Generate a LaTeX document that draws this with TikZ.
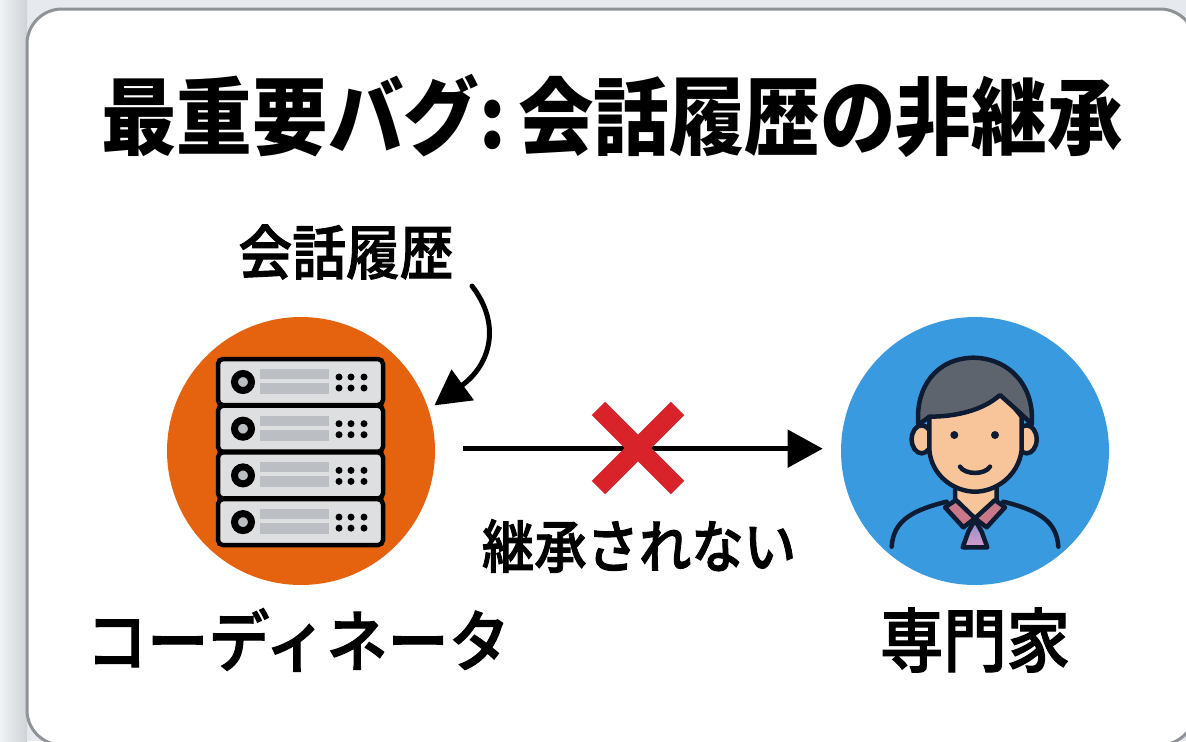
\documentclass[tikz,border=0pt]{standalone}
\usepackage{fontspec}
\newfontfamily\cjk{Noto Sans CJK JP}
\newfontfamily\cjkmed{Noto Sans CJK JP Medium}[FakeBold=1.6]
\usetikzlibrary{arrows.meta}

\newcommand{\tightspace}{\spaceskip 0.09em\relax}

\definecolor{cardedge}{HTML}{8F9398}
\definecolor{outerbg}{HTML}{E6EAEE}
\definecolor{coordorange}{HTML}{E5620F}
\definecolor{expertblue}{HTML}{3A9AE0}
\definecolor{crossred}{HTML}{D9232B}
\definecolor{rackgray}{HTML}{DEDFE1}
\definecolor{bargray}{HTML}{BBBEC2}
\definecolor{hairgray}{HTML}{5E646E}
\definecolor{skin}{HTML}{F8C49A}
\definecolor{inkblue}{HTML}{0E1C33}
\definecolor{collarpink}{HTML}{C9788A}
\definecolor{tietop}{HTML}{8A8FC8}
\definecolor{tiebottom}{HTML}{D79CC8}

\tikzset{
  jptitle/.style={font=\cjk\bfseries\fontsize{#1}{#1}\selectfont, text=black, inner sep=0pt, yscale=1.12, transform shape},
  jp/.style={font=\cjkmed\fontsize{#1}{#1}\selectfont, text=black, inner sep=0pt, yscale=1.1, transform shape},
  disc/.style={circle, minimum size=5.36cm, inner sep=0pt},
  flow/.style={line width=0.1cm, -{Triangle[length=0.7cm, width=0.74cm]}},
  rack/.style={draw=black, fill=rackgray, line width=0.09cm, rounded corners=0.1cm},
  inkline/.style={draw=inkblue, line width=0.09cm, line join=round, line cap=round}
}

\begin{document}
\begin{tikzpicture}[x=0.02cm, y=-0.02cm]

\useasboundingbox (0, 0) rectangle (1186, 741);
\clip (0, 0) rectangle (1186, 741);

%Draw card
\fill[outerbg] (0, 0) rectangle (1186, 741);
\shade[left color=outerbg!60!white, right color=outerbg!90!black] (0, 0) rectangle (27, 741);
\draw[cardedge, fill=white, line width=0.06cm, rounded corners=0.7cm] (27, 9) rectangle (1195, 745);

%Draw labels
\node[jptitle=43pt] (title) at (612, 116) {\tightspace 最重要バグ: 会話履歴の非継承};
\node[jp=30.6pt] (history) at (346, 252) {会話履歴};
\node[jp=29.8pt] (denied) at (639, 546) {継承されない};
\node[jp=34.8pt] (coordlabel) at (298, 640) {コーディネータ};
\node[jp=36pt] (expertlabel) at (975, 640) {専門家};

%Draw circles
\node[disc, fill=coordorange] (coordinator) at (301, 451) {};
\node[disc, fill=expertblue] (expert) at (975, 451) {};

%Draw server racks
\foreach \row in {0, 1, 2, 3} {
\begin{scope}[shift={(0, 46.7*\row)}]
\draw[rack] (218, 359) rectangle (383, 405);
\draw[black, fill=bargray, line width=0.14cm] (243, 382) circle (8.5);
\fill[bargray] (260, 369) rectangle (329, 379);
\fill[bargray] (260, 383) rectangle (329, 394);
\foreach \dotx in {339, 351, 364} {
\fill[black] (\dotx, 377) circle (3.5);
\fill[black] (\dotx, 388) circle (3.5);
}
\end{scope}
}

%Draw person
\begin{scope}[shift={(830, 310)}, x=0.00667cm, y=-0.00667cm]
\draw[inkline, fill=skin] (275, 388) ellipse (30 and 42);
\draw[inkline, fill=skin] (590, 388) ellipse (30 and 42);
\draw[inkline, fill=skin] (375, 530) -- (375, 575) -- (435, 625) -- (500, 575) -- (500, 530) -- cycle;
\draw[inkline, fill=skin] (298, 320) -- (298, 420) .. controls (305, 500) and (375, 545) .. (435, 545)
  .. controls (495, 545) and (565, 500) .. (575, 420) -- (575, 320) -- (510, 240) -- (350, 240) -- cycle;
\draw[inkline, fill=hairgray] (265, 345) .. controls (255, 230) and (320, 145) .. (430, 143)
  .. controls (540, 145) and (615, 230) .. (605, 345) .. controls (590, 325) and (560, 300) .. (510, 255)
  .. controls (460, 300) and (380, 320) .. (298, 320) -- cycle;
\fill[inkblue] (373, 375) circle (12);
\fill[inkblue] (495, 375) circle (12);
\draw[inkline] (390, 470) .. controls (405, 495) and (465, 495) .. (480, 470);
\draw[inkline] (185, 710) .. controls (190, 630) and (250, 600) .. (350, 575);
\draw[inkline] (685, 710) .. controls (680, 630) and (620, 600) .. (520, 575);
\draw[inkline, top color=tietop, bottom color=tiebottom] (435, 630) -- (415, 665) -- (398, 712) -- (472, 712) -- (455, 665) -- cycle;
\draw[inkline, fill=collarpink] (345, 592) -- (378, 570) -- (435, 625) -- (400, 652) -- cycle;
\draw[inkline, fill=collarpink] (525, 592) -- (495, 570) -- (435, 625) -- (470, 652) -- cycle;
\end{scope}

%Draw arrows
\coordinate (historyout) at (472, 286);
\draw[flow, line cap=round, shorten >=0.14cm] (historyout) .. controls (502, 325) and (490, 365) .. (coordinator.18);
\draw[flow, shorten <=0.56cm, shorten >=0.36cm] (coordinator.1) -- (expert.179);

%Draw cross
\coordinate (cross) at (638, 448);
\foreach \ang in {45, 135} {
\draw[crossred, line width=0.38cm] (cross) ++ (\ang:56) -- ++ (\ang+180:112);
}

\end{tikzpicture}
\end{document}
